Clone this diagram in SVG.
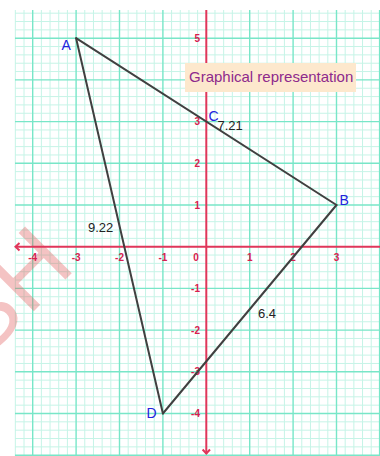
<svg xmlns="http://www.w3.org/2000/svg" width="380" height="456" viewBox="0 0 380 456">
<style>
.minor{stroke:#c6f4e7;stroke-width:1;fill:none}
.major{stroke:#78e6c8;stroke-width:1.4;fill:none}
.axis{stroke:#e0365a;stroke-width:2;fill:none}
.tick{font-family:"Liberation Sans",Arial,sans-serif;font-size:10px;font-weight:bold;fill:#d8204e}
.tx{text-anchor:middle}
.ty{text-anchor:end}
.edge{stroke:#404040;stroke-width:2;fill:none;stroke-linecap:round}
.pt{font-family:"Liberation Sans",Arial,sans-serif;font-size:14px;fill:#2222dd}
.len{font-family:"Liberation Sans",Arial,sans-serif;font-size:13px;fill:#222}
</style>
<rect width="380" height="456" fill="#fff"/>
<g id="grid">
<path class="minor" d="M15.34 10V456M24.02 10V456M41.38 10V456M50.06 10V456M58.74 10V456M67.42 10V456M84.78 10V456M93.46 10V456M102.14 10V456M110.82 10V456M128.18 10V456M136.86 10V456M145.54 10V456M154.22 10V456M171.58 10V456M180.26 10V456M188.94 10V456M197.62 10V456M214.98 10V456M223.66 10V456M232.34 10V456M241.02 10V456M258.38 10V456M267.06 10V456M275.74 10V456M284.42 10V456M301.78 10V456M310.46 10V456M319.14 10V456M327.82 10V456M345.18 10V456M353.86 10V456M362.54 10V456M371.22 10V456"/>
<path class="minor" d="M15 13.18H380M15 21.52H380M15 29.86H380M15 46.54H380M15 54.88H380M15 63.22H380M15 71.56H380M15 88.24H380M15 96.58H380M15 104.92H380M15 113.26H380M15 129.94H380M15 138.28H380M15 146.62H380M15 154.96H380M15 171.64H380M15 179.98H380M15 188.32H380M15 196.66H380M15 213.34H380M15 221.68H380M15 230.02H380M15 238.36H380M15 255.04H380M15 263.38H380M15 271.72H380M15 280.06H380M15 296.74H380M15 305.08H380M15 313.42H380M15 321.76H380M15 338.44H380M15 346.78H380M15 355.12H380M15 363.46H380M15 380.14H380M15 388.48H380M15 396.82H380M15 405.16H380M15 421.84H380M15 430.18H380M15 438.52H380M15 446.86H380"/>
<path class="major" d="M32.7 10V456M76.1 10V456M119.5 10V456M162.9 10V456M249.7 10V456M293.1 10V456M336.5 10V456M379.6 10V456"/>
<path class="major" d="M15 38.2H380M15 79.9H380M15 121.6H380M15 163.3H380M15 205H380M15 288.4H380M15 330.1H380M15 371.8H380M15 413.5H380M15 455.2H380"/>
</g>
<g id="watermark">
<text x="-17" y="362" transform="rotate(-45 -17 362)" font-family="'Liberation Sans',Arial,sans-serif" font-size="96" fill="#e05a5a" fill-opacity="0.36">SH</text>
</g>
<g id="axes">
<path class="axis" d="M16 246.7H380M206.3 10V454"/>
<path class="axis" d="M19.5 243L15.5 246.7L19.5 250.4M202.6 449.5L206.3 453.5L210 449.5" stroke-width="1.6"/>
<text class="tick tx" x="32.7" y="261">-4</text>
<text class="tick tx" x="76.1" y="261">-3</text>
<text class="tick tx" x="119.5" y="261">-2</text>
<text class="tick tx" x="162.9" y="261">-1</text>
<text class="tick tx" x="196" y="261">0</text>
<text class="tick tx" x="249.7" y="261">1</text>
<text class="tick tx" x="293.1" y="261">2</text>
<text class="tick tx" x="336.5" y="261">3</text>
<text class="tick ty" x="200" y="41.7">5</text>
<text class="tick ty" x="200" y="125.1">3</text>
<text class="tick ty" x="200" y="166.8">2</text>
<text class="tick ty" x="200" y="208.5">1</text>
<text class="tick ty" x="200" y="291.9">-1</text>
<text class="tick ty" x="200" y="333.6">-2</text>
<text class="tick ty" x="200" y="375.3">-3</text>
<text class="tick ty" x="200" y="417">-4</text>
</g>
<g id="connectors">
<g id="edge-AB"><line class="edge" x1="76.1" y1="38.2" x2="336.5" y2="205"/><text class="len" x="217.5" y="130">7.21</text></g>
<g id="edge-BD"><line class="edge" x1="336.5" y1="205" x2="162.9" y2="413.5"/><text class="len" x="258" y="318">6.4</text></g>
<g id="edge-DA"><line class="edge" x1="162.9" y1="413.5" x2="76.1" y2="38.2"/><text class="len" x="88" y="232">9.22</text></g>
</g>
<g id="node-A"><text class="pt" x="61.5" y="50">A</text></g>
<g id="node-B"><text class="pt" x="339.5" y="205">B</text></g>
<g id="node-C"><text class="pt" x="208.5" y="121">C</text></g>
<g id="node-D"><text class="pt" x="146.5" y="418">D</text></g>
<g id="title">
<rect x="185" y="63" width="171" height="29" fill="#fde8cd"/>
<text x="189" y="81.5" font-family="'Liberation Sans',Arial,sans-serif" font-size="15" fill="#8e2a8c">Graphical representation</text>
</g>
</svg>
